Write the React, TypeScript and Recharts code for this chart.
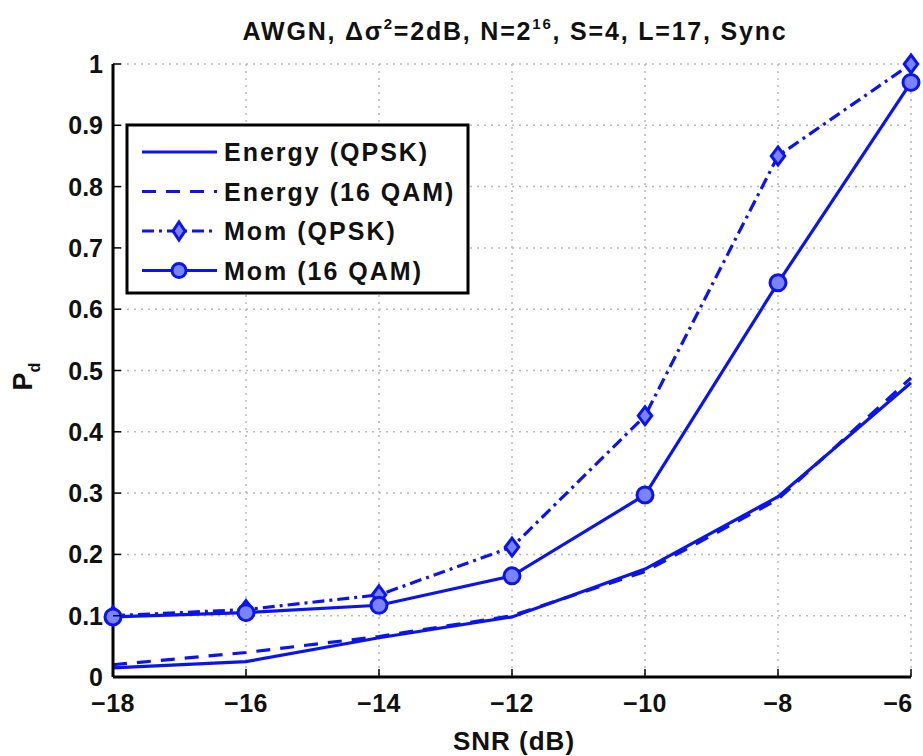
import { LineChart, Line, XAxis, YAxis, CartesianGrid, Label } from 'recharts';

const snr = [-18, -16, -14, -12, -10, -8, -6];
const energyQpsk = [0.015, 0.025, 0.064, 0.098, 0.176, 0.294, 0.48];
const energy16 = [0.02, 0.04, 0.066, 0.1, 0.172, 0.29, 0.488];
const momQpsk = [0.1, 0.11, 0.134, 0.212, 0.426, 0.85, 1.0];
const mom16 = [0.098, 0.105, 0.117, 0.165, 0.297, 0.643, 0.97];

const xTicks = [-18, -16, -14, -12, -10, -8, -6];
const yTicks = [0, 0.1, 0.2, 0.3, 0.4, 0.5, 0.6, 0.7, 0.8, 0.9, 1];

const data = snr.map((s, i) => ({
    snr: s,
    eq: energyQpsk[i],
    e16: energy16[i],
    mq: momQpsk[i],
    m16: mom16[i],
}));

const BLUE = '#0a14f0';
const MARK_FILL = '#7a84ff';
const FONT = '"Liberation Sans", Arial, sans-serif';

const fmtX = (v: number) => String(v).replace('-', '\u2212');

function BottomTick(props: any) {
    const { x, y, payload } = props;
    // last label would run past the right edge of the page, keep it inside
    const tx = Math.min(x, 898);
    return (
        <g>
            <line x1={x} y1={y} x2={x} y2={y - 8} stroke="#000" strokeWidth={1.5} />
            <text x={tx} y={y + 35} textAnchor="middle" fontFamily={FONT} fontWeight="bold" fontSize={25} letterSpacing={0.5} fill="#111">
                {fmtX(payload.value)}
            </text>
        </g>
    );
}

function TopTick(props: any) {
    const { x, y } = props;
    return <line x1={x} y1={y} x2={x} y2={y + 8} stroke="#000" strokeWidth={1.5} />;
}

function LeftTick(props: any) {
    const { x, y, payload } = props;
    return (
        <g>
            <line x1={x} y1={y} x2={x + 8} y2={y} stroke="#000" strokeWidth={1.5} />
            <text x={x - 10} y={y + 9} textAnchor="end" fontFamily={FONT} fontWeight="bold" fontSize={25} fill="#111">
                {String(payload.value)}
            </text>
        </g>
    );
}

function RightTick(props: any) {
    const { x, y } = props;
    return <line x1={x} y1={y} x2={x - 8} y2={y} stroke="#000" strokeWidth={1.5} />;
}

function Diamond(props: any) {
    const { cx, cy } = props;
    if (cx == null || cy == null) return null;
    const r = 9;
    return (
        <path
            d={`M${cx},${cy - r} L${cx + r * 0.75},${cy} L${cx},${cy + r} L${cx - r * 0.75},${cy} Z`}
            fill={MARK_FILL}
            stroke={BLUE}
            strokeWidth={3}
        />
    );
}

function Circle(props: any) {
    const { cx, cy } = props;
    if (cx == null || cy == null) return null;
    return <circle cx={cx} cy={cy} r={8} fill={MARK_FILL} stroke={BLUE} strokeWidth={3} />;
}

const legendItems = [
    { name: 'Energy (QPSK)', dash: undefined, marker: null },
    { name: 'Energy (16 QAM)', dash: '14 10', marker: null },
    { name: 'Mom (QPSK)', dash: '12 5 3 5', marker: 'diamond' },
    { name: 'Mom (16 QAM)', dash: undefined, marker: 'circle' },
];

function LegendBox() {
    return (
        <svg width={345} height={172} style={{ position: 'absolute', left: 125, top: 123 }}>
            <rect x={2} y={2} width={341} height={168} fill="#fff" stroke="#000" strokeWidth={3} />
            {legendItems.map((it, i) => {
                const y = 29 + i * 39.5;
                return (
                    <g key={it.name}>
                        <line x1={17} y1={y} x2={92} y2={y} stroke={BLUE} strokeWidth={3} strokeDasharray={it.dash} />
                        {it.marker === 'diamond' && (
                            <path d={`M54,${y - 9} L60,${y} L54,${y + 9} L48,${y} Z`} fill={MARK_FILL} stroke={BLUE} strokeWidth={3} />
                        )}
                        {it.marker === 'circle' && <circle cx={54} cy={y} r={7} fill={MARK_FILL} stroke={BLUE} strokeWidth={3} />}
                        <text x={99} y={y + 9} fontFamily={FONT} fontWeight="bold" fontSize={25} letterSpacing={2} fill="#111">
                            {it.name}
                        </text>
                    </g>
                );
            })}
        </svg>
    );
}

function Title() {
    return (
        <svg width={923} height={60} style={{ position: 'absolute', left: 0, top: 0 }}>
            <text x={515} y={40} textAnchor="middle" fontFamily={FONT} fontWeight="bold" fontSize={25} letterSpacing={1.8} fill="#111">
                AWGN, Δσ<tspan fontSize={15} dy={-11}>2</tspan>
                <tspan dy={11}>=2dB, N=2</tspan>
                <tspan fontSize={15} dy={-11}>16</tspan>
                <tspan dy={11}>, S=4, L=17, Sync</tspan>
            </text>
        </svg>
    );
}

function YLabel(props: any) {
    const vb = props.viewBox || {};
    const cx = 32;
    const cy = vb.y + vb.height / 2 + 6;
    return (
        <text x={cx} y={cy} transform={`rotate(-90 ${cx} ${cy})`} textAnchor="middle" fontFamily={FONT} fontWeight="bold" fontSize={27} fill="#111">
            P<tspan fontSize={16} dy={8}>d</tspan>
        </text>
    );
}

function XLabel(props: any) {
    const vb = props.viewBox || {};
    const cx = vb.x + vb.width / 2 + 2;
    return (
        <text x={cx} y={750} textAnchor="middle" fontFamily={FONT} fontWeight="bold" fontSize={26} letterSpacing={1} fill="#111">
            SNR (dB)
        </text>
    );
}

export default function App() {
    return (
        <div style={{ position: 'absolute', left: 0, top: 0, width: 923, height: 756, background: '#fff' }}>
            <LineChart width={923} height={756} data={data} margin={{ top: 64, right: 12, left: 53, bottom: 29 }}>
                <CartesianGrid stroke="#b8b8b8" strokeDasharray="2 5" strokeWidth={1.5} />
                <XAxis
                    dataKey="snr"
                    type="number"
                    domain={[-18, -6]}
                    ticks={xTicks}
                    axisLine={{ stroke: '#000', strokeWidth: 3 }}
                    tickLine={false}
                    tickSize={0}
                    tickMargin={0}
                    height={50}
                    tick={BottomTick}
                    interval={0}
                >
                    <Label content={XLabel} />
                </XAxis>
                <XAxis
                    xAxisId="top"
                    orientation="top"
                    dataKey="snr"
                    type="number"
                    domain={[-18, -6]}
                    ticks={xTicks}
                    axisLine={{ stroke: '#000', strokeWidth: 3 }}
                    tickLine={false}
                    tickSize={0}
                    tickMargin={0}
                    height={0}
                    tick={TopTick}
                    interval={0}
                />
                <YAxis
                    type="number"
                    domain={[0, 1]}
                    ticks={yTicks}
                    axisLine={{ stroke: '#000', strokeWidth: 3 }}
                    tickLine={false}
                    tickSize={0}
                    tickMargin={0}
                    width={60}
                    tick={LeftTick}
                    interval={0}
                >
                    <Label content={YLabel} />
                </YAxis>
                <YAxis
                    yAxisId="right"
                    orientation="right"
                    type="number"
                    domain={[0, 1]}
                    ticks={yTicks}
                    axisLine={{ stroke: '#000', strokeWidth: 3 }}
                    tickLine={false}
                    tickSize={0}
                    tickMargin={0}
                    width={0}
                    tick={RightTick}
                    interval={0}
                />
                <Line type="linear" dataKey="eq" name="Energy (QPSK)" stroke={BLUE} strokeWidth={3.2} dot={false} isAnimationActive={false} />
                <Line type="linear" dataKey="e16" name="Energy (16 QAM)" stroke={BLUE} strokeWidth={3.2} strokeDasharray="14 10" dot={false} isAnimationActive={false} />
                <Line type="linear" dataKey="mq" name="Mom (QPSK)" stroke={BLUE} strokeWidth={3.2} strokeDasharray="12 5 3 5" dot={<Diamond />} isAnimationActive={false} />
                <Line type="linear" dataKey="m16" name="Mom (16 QAM)" stroke={BLUE} strokeWidth={3.2} dot={<Circle />} isAnimationActive={false} />
            </LineChart>
            <Title />
            <LegendBox />
        </div>
    );
}
